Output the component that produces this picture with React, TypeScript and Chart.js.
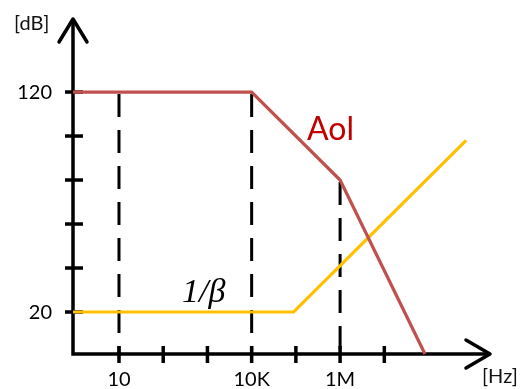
import React, { useEffect, useRef } from "react";
import { Chart, registerables } from "chart.js";

Chart.register(...registerables);

// x values are log10(frequency in Hz)
const aolX = [-0.04, 4, 6, 7.92];
const aolY = [120, 120, 80, 0.91];
const betaX = [-0.04, 4.95, 8.85];
const betaY = [20, 20, 98];

const xTickValues = [1, 2, 3, 4, 5, 6, 7];
const xTickLabels: Record<number, string> = { 1: "10", 4: "10K", 6: "1M" };
const yTickValues = [20, 40, 60, 80, 100, 120];
const yTickLabels: Record<number, string> = { 20: "20", 120: "120" };

const guideX = [1, 4, 6];
const guideTop = [120, 120, 80];

const X_MIN = -0.04;
const X_MAX = 9.39;
const Y_MIN = 0.91;
const Y_MAX = 153.2;

const FONT = "Lato, 'Open Sans', sans-serif";

const axesPlugin = {
  id: "bodeAxes",
  beforeDatasetsDraw(chart: any) {
    const ctx = chart.ctx;
    const xs = chart.scales.x;
    const ys = chart.scales.y;
    const x0 = xs.getPixelForValue(X_MIN);
    const y0 = ys.getPixelForValue(Y_MIN);
    ctx.save();
    // dashed guides
    ctx.strokeStyle = "#000";
    ctx.lineWidth = 3;
    ctx.setLineDash([23, 13]);
    ctx.lineCap = "butt";
    guideX.forEach((gx, i) => {
      const px = xs.getPixelForValue(gx);
      ctx.beginPath();
      ctx.moveTo(px, ys.getPixelForValue(guideTop[i]) + 2);
      ctx.lineTo(px, y0);
      ctx.stroke();
    });
    ctx.setLineDash([]);
    // ticks
    ctx.lineWidth = 3.5;
    xTickValues.forEach((v) => {
      const px = xs.getPixelForValue(v);
      ctx.beginPath();
      ctx.moveTo(px, y0 - 8);
      ctx.lineTo(px, y0 + 9);
      ctx.stroke();
    });
    yTickValues.forEach((v) => {
      const py = ys.getPixelForValue(v);
      ctx.beginPath();
      ctx.moveTo(x0 - 8, py);
      ctx.lineTo(x0 + 10, py);
      ctx.stroke();
    });
    // axes
    const xEnd = xs.getPixelForValue(X_MAX);
    const yEnd = ys.getPixelForValue(Y_MAX);
    ctx.lineWidth = 3.5;
    ctx.lineJoin = "miter";
    ctx.beginPath();
    ctx.moveTo(x0, yEnd + 1);
    ctx.lineTo(x0, y0);
    ctx.lineTo(xEnd - 1, y0);
    ctx.stroke();
    ctx.lineCap = "round";
    ctx.lineJoin = "round";
    ctx.beginPath();
    ctx.moveTo(x0 - 14, yEnd + 23);
    ctx.lineTo(x0, yEnd);
    ctx.lineTo(x0 + 14, yEnd + 23);
    ctx.stroke();
    ctx.beginPath();
    ctx.moveTo(xEnd - 24, y0 - 14);
    ctx.lineTo(xEnd, y0);
    ctx.lineTo(xEnd - 24, y0 + 14);
    ctx.stroke();
    ctx.restore();
  },
  afterDraw(chart: any) {
    const ctx = chart.ctx;
    const xs = chart.scales.x;
    const ys = chart.scales.y;
    const x0 = xs.getPixelForValue(X_MIN);
    const y0 = ys.getPixelForValue(Y_MIN);
    ctx.save();
    ctx.fillStyle = "#000";
    ctx.font = `20px ${FONT}`;
    ctx.textBaseline = "middle";
    ctx.textAlign = "right";
    Object.keys(yTickLabels).forEach((k) => {
      const v = Number(k);
      ctx.fillText(yTickLabels[v], x0 - 21, ys.getPixelForValue(v) + 1);
    });
    ctx.textAlign = "center";
    Object.keys(xTickLabels).forEach((k) => {
      const v = Number(k);
      ctx.fillText(xTickLabels[v], xs.getPixelForValue(v), y0 + 26);
    });
    ctx.font = `20px ${FONT}`;
    ctx.textAlign = "left";
    ctx.fillStyle = "#111";
    ctx.fillText("[dB]", 14, 24);
    ctx.fillText("[Hz]", 482, 377);
    // series labels
    ctx.font = `32px ${FONT}`;
    ctx.fillStyle = "#C00000";
    ctx.textBaseline = "alphabetic";
    ctx.fillText("Aol", 307, 140);
    ctx.font = `italic 34px 'Liberation Serif', 'DejaVu Serif', serif`;
    ctx.fillStyle = "#000";
    ctx.fillText("1/β", 182, 302);
    ctx.restore();
  },
};

export default function App() {
  const ref = useRef<HTMLCanvasElement | null>(null);
  useEffect(() => {
    if (!ref.current) return;
    const chart = new Chart(ref.current, {
      type: "line",
      data: {
        datasets: [
          {
            label: "Aol",
            data: aolX.map((x, i) => ({ x, y: aolY[i] })),
            borderColor: "#C0504D",
            borderWidth: 3.2,
            pointRadius: 0,
            tension: 0,
            clip: false as any,
          },
          {
            label: "1/β",
            data: betaX.map((x, i) => ({ x, y: betaY[i] })),
            borderColor: "#FFC000",
            borderWidth: 3.2,
            pointRadius: 0,
            tension: 0,
            clip: false as any,
          },
        ],
      },
      options: {
        animation: false,
        responsive: false,
        maintainAspectRatio: false,
        layout: { padding: { left: 73, right: 38, top: 19, bottom: 35 } },
        plugins: { legend: { display: false }, tooltip: { enabled: false } },
        scales: {
          x: { type: "linear", min: X_MIN, max: X_MAX, display: false },
          y: { type: "linear", min: Y_MIN, max: Y_MAX, display: false },
        },
      },
      plugins: [axesPlugin],
    });
    return () => chart.destroy();
  }, []);
  return (
    <div style={{ position: "absolute", left: 0, top: 0, width: 528, height: 389, background: "#fff" }}>
      <canvas ref={ref} width={528} height={389} style={{ width: 528, height: 389 }} />
    </div>
  );
}
